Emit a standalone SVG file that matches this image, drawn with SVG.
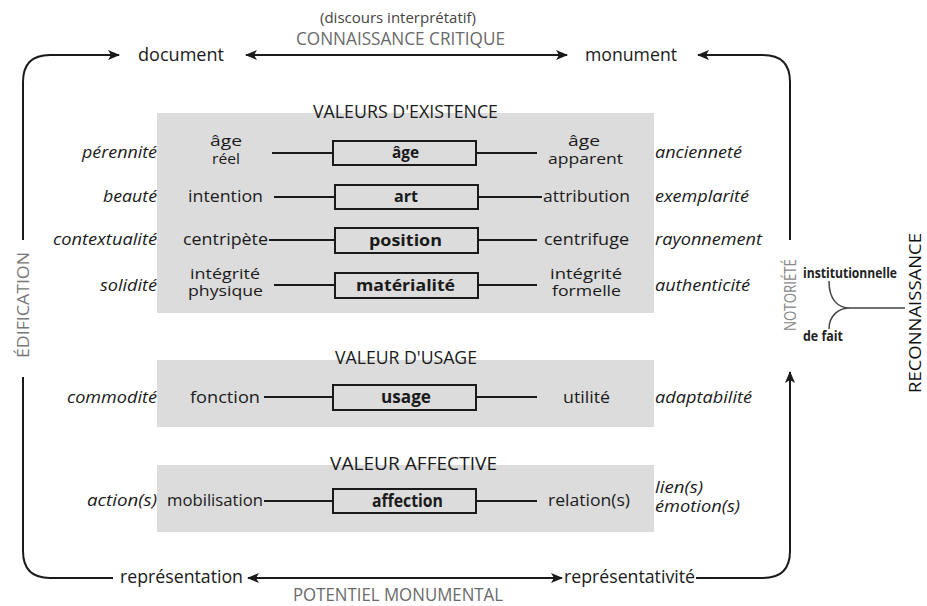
<svg xmlns="http://www.w3.org/2000/svg" width="927" height="606" viewBox="0 0 927 606">
<defs>
<style>
text{font-family:"Open Sans","Noto Sans","DejaVu Sans",sans-serif;font-size:16px;fill:#1a1a1a}
.it{font-style:italic}
.b{font-weight:bold}
.n{font-family:"Liberation Sans Narrow","Open Sans",sans-serif}
.t{font-size:18px}
.g{fill:#6a6a6a}
.two{font-size:15px}
.panel{fill:#dcdcdc}
.box{fill:#dcdcdc;stroke:#1a1a1a;stroke-width:2}
.c{fill:none;stroke:#1a1a1a;stroke-width:2}
.f{fill:none;stroke:#444;stroke-width:1.5}
</style>
<marker id="ah" viewBox="0 0 12 10" refX="11" refY="5" markerWidth="12" markerHeight="10" markerUnits="userSpaceOnUse" orient="auto-start-reverse">
<path d="M0,0 L12,5 L0,10 L3,5 z" fill="#1a1a1a"/>
</marker>
</defs>

<g id="panels">
<rect class="panel" x="157" y="113" width="497" height="200"/>
<rect class="panel" x="157" y="360" width="497" height="67"/>
<rect class="panel" x="157" y="465" width="497" height="67"/>
</g>

<g id="connectors">
<path class="c" d="M23 240 L23 82 Q23 55 50 55 L119 55" marker-end="url(#ah)"/>
<path class="c" d="M23 377 L23 551 Q23 578 50 578 L113 578"/>
<path class="c" d="M246 55 L567 55" marker-start="url(#ah)" marker-end="url(#ah)"/>
<path class="c" d="M790 240 L790 82 Q790 55 763 55 L698 55" marker-end="url(#ah)"/>
<path class="c" d="M696 578 L763 578 Q790 578 790 551 L790 372" marker-end="url(#ah)"/>
<path class="c" d="M248 578 L562 578" marker-start="url(#ah)" marker-end="url(#ah)"/>
<path class="c" d="M272 153 L333 153 M476 153 L537 153"/>
<path class="c" d="M274 197 L335 197 M478 197 L542 197"/>
<path class="c" d="M269 240 L335 240 M478 240 L537 240"/>
<path class="c" d="M274 285 L335 285 M478 285 L537 285"/>
<path class="c" d="M264 397 L333 397 M476 397 L537 397"/>
<path class="c" d="M264 501 L333 501 M476 501 L537 501"/>
<path class="f" d="M829 281 C829 300 838 308 850 308 L905 308 M829 329 C829 316 838 308 850 308"/>
</g>

<g id="top">
<text class="n" x="320" y="23" textLength="156" lengthAdjust="spacingAndGlyphs" style="font-size:14px;fill:#444">(discours interprétatif)</text>
<text class="n g" x="296" y="45" textLength="209" lengthAdjust="spacingAndGlyphs" style="font-size:19px">CONNAISSANCE CRITIQUE</text>
</g>
<g id="document"><text class="n" x="138" y="61" textLength="86" lengthAdjust="spacingAndGlyphs" style="font-size:18px">document</text></g>
<g id="monument"><text class="n" x="585" y="61" textLength="92" lengthAdjust="spacingAndGlyphs" style="font-size:18px">monument</text></g>

<g id="valeurs-existence">
<text class="n t" x="313" y="118" textLength="185" lengthAdjust="spacingAndGlyphs">VALEURS D'EXISTENCE</text>
</g>

<g id="row-age">
<text class="it" x="82" y="158" textLength="75" lengthAdjust="spacingAndGlyphs">pérennité</text>
<text class="two" x="210" y="146" textLength="32" lengthAdjust="spacingAndGlyphs">âge</text>
<text class="two" x="212" y="164" textLength="28" lengthAdjust="spacingAndGlyphs">réel</text>
<rect class="box" x="333" y="141" width="143" height="24"/>
<text class="b" x="392" y="158" textLength="27" lengthAdjust="spacingAndGlyphs">âge</text>
<text class="two" x="568" y="146" textLength="32" lengthAdjust="spacingAndGlyphs">âge</text>
<text class="two" x="548" y="164" textLength="75" lengthAdjust="spacingAndGlyphs">apparent</text>
<text class="it" x="655" y="158" textLength="87" lengthAdjust="spacingAndGlyphs">ancienneté</text>
</g>

<g id="row-art">
<text class="it" x="103" y="202" textLength="54" lengthAdjust="spacingAndGlyphs">beauté</text>
<text x="188" y="202" textLength="75" lengthAdjust="spacingAndGlyphs">intention</text>
<rect class="box" x="335" y="185" width="143" height="24"/>
<text class="b" x="394" y="202" textLength="24" lengthAdjust="spacingAndGlyphs">art</text>
<text x="543" y="202" textLength="87" lengthAdjust="spacingAndGlyphs">attribution</text>
<text class="it" x="655" y="202" textLength="94" lengthAdjust="spacingAndGlyphs">exemplarité</text>
</g>

<g id="row-position">
<text class="it" x="53" y="245" textLength="104" lengthAdjust="spacingAndGlyphs">contextualité</text>
<text x="183" y="245" textLength="85" lengthAdjust="spacingAndGlyphs">centripète</text>
<rect class="box" x="335" y="228" width="143" height="25"/>
<text class="b" x="369" y="246" textLength="73" lengthAdjust="spacingAndGlyphs">position</text>
<text x="544" y="245" textLength="85" lengthAdjust="spacingAndGlyphs">centrifuge</text>
<text class="it" x="655" y="245" textLength="107" lengthAdjust="spacingAndGlyphs">rayonnement</text>
</g>

<g id="row-materialite">
<text class="it" x="100" y="291" textLength="57" lengthAdjust="spacingAndGlyphs">solidité</text>
<text class="two" x="190" y="279" textLength="70" lengthAdjust="spacingAndGlyphs">intégrité</text>
<text class="two" x="188" y="296" textLength="75" lengthAdjust="spacingAndGlyphs">physique</text>
<rect class="box" x="335" y="273" width="143" height="25"/>
<text class="b" x="356" y="291" textLength="99" lengthAdjust="spacingAndGlyphs">matérialité</text>
<text class="two" x="550" y="279" textLength="72" lengthAdjust="spacingAndGlyphs">intégrité</text>
<text class="two" x="552" y="296" textLength="69" lengthAdjust="spacingAndGlyphs">formelle</text>
<text class="it" x="655" y="291" textLength="95" lengthAdjust="spacingAndGlyphs">authenticité</text>
</g>

<g id="valeur-usage">
<text class="n t" x="335" y="364" textLength="142" lengthAdjust="spacingAndGlyphs">VALEUR D'USAGE</text>
<text class="n it" x="67" y="403" textLength="90" lengthAdjust="spacingAndGlyphs" style="font-size:17px">commodité</text>
<text class="n" x="190" y="403" textLength="70" lengthAdjust="spacingAndGlyphs" style="font-size:17px">fonction</text>
<rect class="box" x="333" y="385" width="143" height="25"/>
<text class="n b" x="381" y="403" textLength="50" lengthAdjust="spacingAndGlyphs" style="font-size:17px">usage</text>
<text class="n" x="563" y="403" textLength="47" lengthAdjust="spacingAndGlyphs" style="font-size:17px">utilité</text>
<text class="n it" x="655" y="403" textLength="97" lengthAdjust="spacingAndGlyphs" style="font-size:17px">adaptabilité</text>
</g>

<g id="valeur-affective">
<text class="n t" x="330" y="470" textLength="167" lengthAdjust="spacingAndGlyphs">VALEUR AFFECTIVE</text>
<text class="n it" x="87" y="506" textLength="70" lengthAdjust="spacingAndGlyphs" style="font-size:17px">action(s)</text>
<text class="n" x="167" y="506" textLength="96" lengthAdjust="spacingAndGlyphs" style="font-size:17px">mobilisation</text>
<rect class="box" x="333" y="489" width="143" height="24"/>
<text class="n b" x="372" y="507" textLength="71" lengthAdjust="spacingAndGlyphs" style="font-size:17px">affection</text>
<text class="n" x="548" y="506" textLength="82" lengthAdjust="spacingAndGlyphs" style="font-size:17px">relation(s)</text>
<text class="n it" x="655" y="493" textLength="48" lengthAdjust="spacingAndGlyphs" style="font-size:17px">lien(s)</text>
<text class="n it" x="655" y="512" textLength="85" lengthAdjust="spacingAndGlyphs" style="font-size:17px">émotion(s)</text>
</g>

<g id="bottom">
<text class="n" x="120" y="583" textLength="123" lengthAdjust="spacingAndGlyphs" style="font-size:18px">représentation</text>
<text class="n" x="564" y="583" textLength="131" lengthAdjust="spacingAndGlyphs" style="font-size:18px">représentativité</text>
<text class="n g" x="293" y="601" textLength="210" lengthAdjust="spacingAndGlyphs" style="font-size:19px">POTENTIEL MONUMENTAL</text>
</g>

<g id="edification">
<text class="n g" transform="translate(29,305) rotate(-90)" x="-53" y="0" textLength="106" lengthAdjust="spacingAndGlyphs" style="font-size:17px;fill:#777">ÉDIFICATION</text>
</g>

<g id="notoriete">
<text class="n" transform="translate(796,295) rotate(-90)" x="-36" y="0" textLength="72" lengthAdjust="spacingAndGlyphs" style="font-size:16px;fill:#888">NOTORIÉTÉ</text>
<text class="n b" x="803" y="278" textLength="94" lengthAdjust="spacingAndGlyphs" style="font-size:15px;fill:#222">institutionnelle</text>
<text class="n b" x="803" y="341" textLength="40" lengthAdjust="spacingAndGlyphs" style="font-size:15px;fill:#222">de fait</text>
</g>

<g id="reconnaissance">
<text class="n" transform="translate(921,313) rotate(-90)" x="-80" y="0" textLength="160" lengthAdjust="spacingAndGlyphs" style="font-size:17px;fill:#111">RECONNAISSANCE</text>
</g>
</svg>
